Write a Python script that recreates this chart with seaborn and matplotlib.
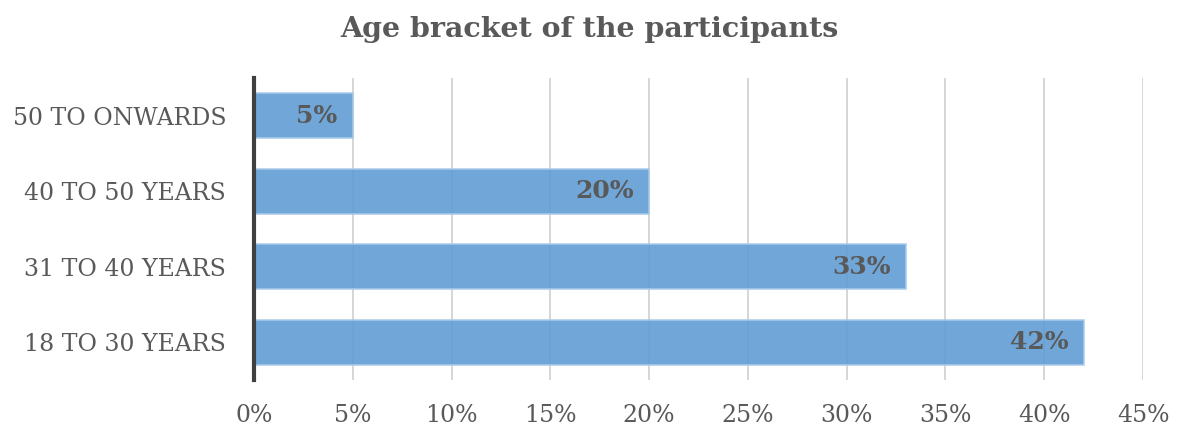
import matplotlib
matplotlib.use("Agg")
import matplotlib.pyplot as plt
import seaborn as sns
import pandas as pd
from matplotlib.ticker import FuncFormatter

# Share of participants by age bracket (percent)
age_groups = ["50 TO ONWARDS", "40 TO 50 YEARS", "31 TO 40 YEARS", "18 TO 30 YEARS"]
shares = [5, 20, 33, 42]
x_ticks = [0, 5, 10, 15, 20, 25, 30, 35, 40, 45]

sns.set_theme(style="white")
plt.rcParams["font.family"] = ["DejaVu Serif", "Liberation Serif"]

text_color = "#595959"
df = pd.DataFrame({"group": age_groups, "share": shares})

fig = plt.figure(figsize=(11.78, 4.33), dpi=100)
ax = fig.add_axes([0.2156, 0.1224, 0.9703 - 0.2156, 0.8199 - 0.1224])

sns.barplot(data=df, x="share", y="group", orient="h", order=age_groups,
            color="#609DD4", saturation=1, alpha=0.9, width=0.6,
            edgecolor="#A9CBEB", linewidth=1.2, ax=ax, zorder=3)

ax.set_xlim(0, 45)
ax.set_xticks(x_ticks)
ax.xaxis.set_major_formatter(FuncFormatter(lambda v, _: f"{v:.0f}%"))
ax.grid(axis="x", color="#D0D0D0", linewidth=1.2, zorder=0)
ax.set_axisbelow(True)
ax.set_xlabel("")
ax.set_ylabel("")

for side in ["top", "right", "bottom"]:
    ax.spines[side].set_visible(False)
ax.spines["left"].set_color("#404040")
ax.spines["left"].set_linewidth(3)
ax.spines["left"].set_zorder(5)

ax.tick_params(axis="x", length=0, pad=17, labelsize=17, labelcolor=text_color)
ax.tick_params(axis="y", length=0, pad=20, labelsize=17, labelcolor=text_color)

for i, v in enumerate(shares):
    ax.annotate(f"{v}%", xy=(v, i), xytext=(-11, 0), textcoords="offset points",
                ha="right", va="center", fontsize=18, fontweight="bold",
                color=text_color, zorder=6)

fig.suptitle("Age bracket of the participants", x=0.5, y=0.962, fontsize=20.5,
             fontweight="bold", color=text_color)

fig.savefig("out.png", dpi=100)
